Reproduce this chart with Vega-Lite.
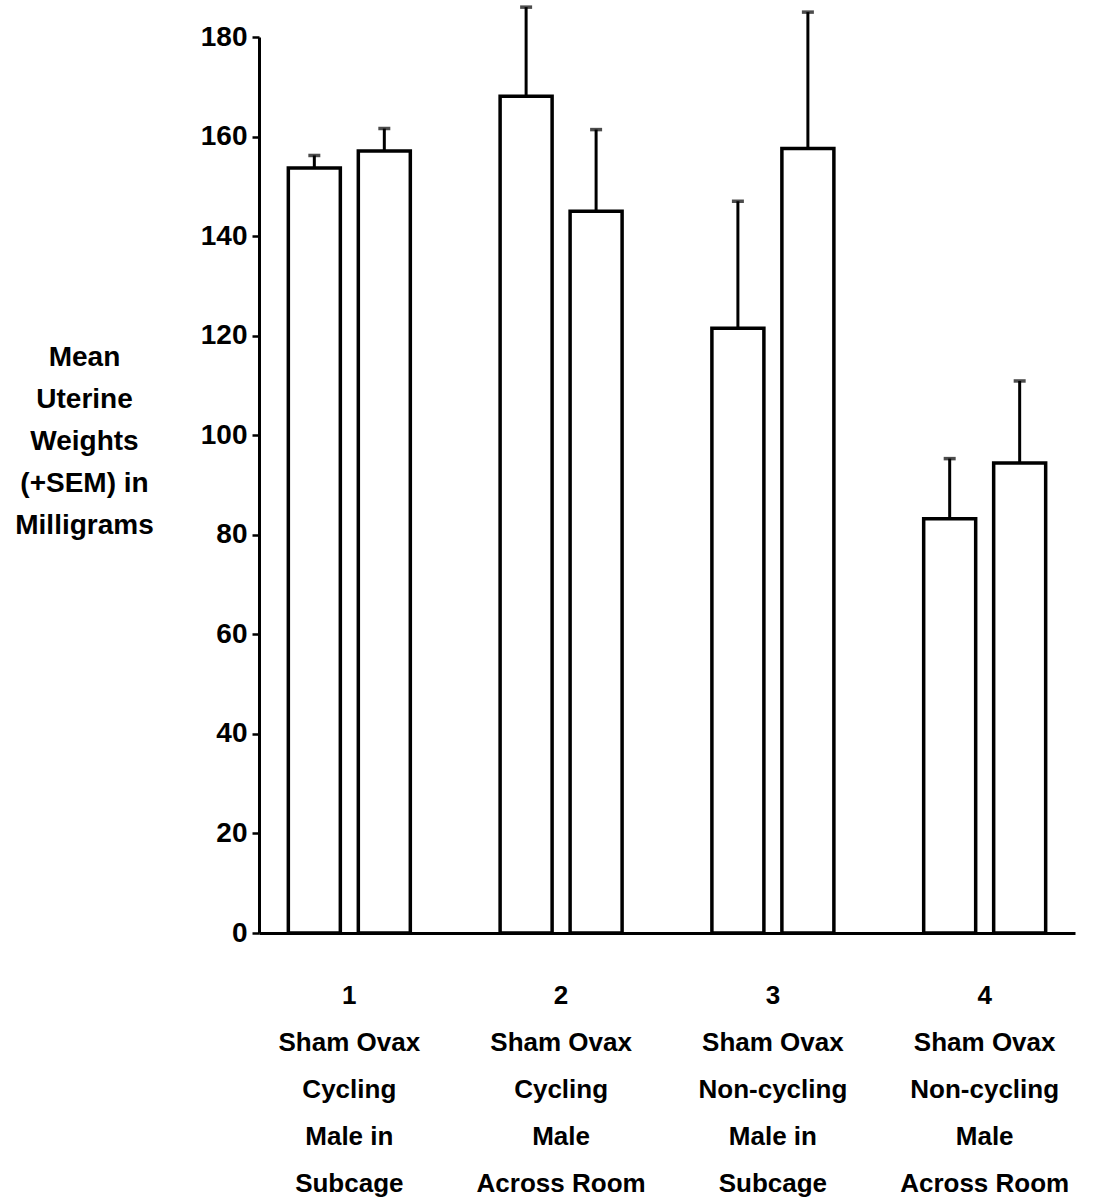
{
  "$schema": "https://vega.github.io/schema/vega-lite/v6.json",
  "autosize": {"type": "none"},
  "width": 816,
  "height": 896,
  "padding": {"left": 259, "top": 37, "right": 25, "bottom": 266},
  "background": "white",
  "config": {
    "view": {"stroke": null},
    "font": "Liberation Sans"
  },
  "data": {
    "values": [
      {"group": "1|Sham  Ovax|Cycling|Male in|Subcage", "condition": "Sham", "mean": 153.7, "upper": 156.2},
      {"group": "1|Sham  Ovax|Cycling|Male in|Subcage", "condition": "Ovax", "mean": 157.1, "upper": 161.6},
      {"group": "2|Sham  Ovax|Cycling|Male|Across Room", "condition": "Sham", "mean": 168.1, "upper": 186.0},
      {"group": "2|Sham  Ovax|Cycling|Male|Across Room", "condition": "Ovax", "mean": 145.0, "upper": 161.4},
      {"group": "3|Sham   Ovax|Non-cycling|Male in|Subcage", "condition": "Sham", "mean": 121.5, "upper": 147.0},
      {"group": "3|Sham   Ovax|Non-cycling|Male in|Subcage", "condition": "Ovax", "mean": 157.6, "upper": 185.0},
      {"group": "4|Sham   Ovax|Non-cycling|Male|Across Room", "condition": "Sham", "mean": 83.2, "upper": 95.3},
      {"group": "4|Sham   Ovax|Non-cycling|Male|Across Room", "condition": "Ovax", "mean": 94.4, "upper": 110.9}
    ]
  },
  "encoding": {
    "x": {
      "field": "group",
      "type": "nominal",
      "sort": null,
      "scale": {"paddingInner": 0.424, "paddingOuter": 0.1385},
      "axis": {
        "title": null,
        "labelAngle": 0,
        "labelExpr": "split(datum.value, '|')",
        "labelFont": "Liberation Sans",
        "labelFontWeight": "bold",
        "labelFontSize": 26,
        "labelColor": "black",
        "labelLineHeight": 47,
        "labelPadding": 62,
        "labelBaseline": "middle",
        "ticks": false,
        "domainColor": "black",
        "domainWidth": 3
      }
    },
    "xOffset": {
      "field": "condition",
      "type": "nominal",
      "sort": ["Sham", "Ovax"],
      "scale": {"paddingInner": 0.257, "paddingOuter": 0}
    }
  },
  "layer": [
    {
      "mark": {"type": "bar", "fill": "white", "stroke": "black", "strokeWidth": 3.5},
      "encoding": {
        "y": {
          "field": "mean",
          "type": "quantitative",
          "scale": {"domain": [0, 180], "nice": false},
          "axis": {
            "title": ["Mean", "Uterine", "Weights", "(+SEM) in", "Milligrams"],
            "titleAngle": 0,
            "titleAlign": "center",
            "titleBaseline": "middle",
            "titleX": -175,
            "titleY": 320,
            "titleFont": "Liberation Sans",
            "titleFontWeight": "bold",
            "titleFontSize": 28,
            "titleLineHeight": 42,
            "titleColor": "black",
            "values": [0, 20, 40, 60, 80, 100, 120, 140, 160, 180],
            "grid": false,
            "labelFont": "Liberation Sans",
            "labelFontWeight": "bold",
            "labelFontSize": 28,
            "labelColor": "black",
            "labelPadding": 5,
            "tickSize": 7,
            "tickWidth": 2.5,
            "tickColor": "black",
            "domainColor": "black",
            "domainWidth": 3
          }
        }
      }
    },
    {
      "mark": {"type": "rule", "stroke": "black", "strokeWidth": 3},
      "encoding": {
        "y": {"field": "mean", "type": "quantitative"},
        "y2": {"field": "upper"}
      }
    },
    {
      "mark": {"type": "tick", "color": "black", "size": 12, "thickness": 3.5},
      "encoding": {
        "y": {"field": "upper", "type": "quantitative"}
      }
    }
  ]
}
